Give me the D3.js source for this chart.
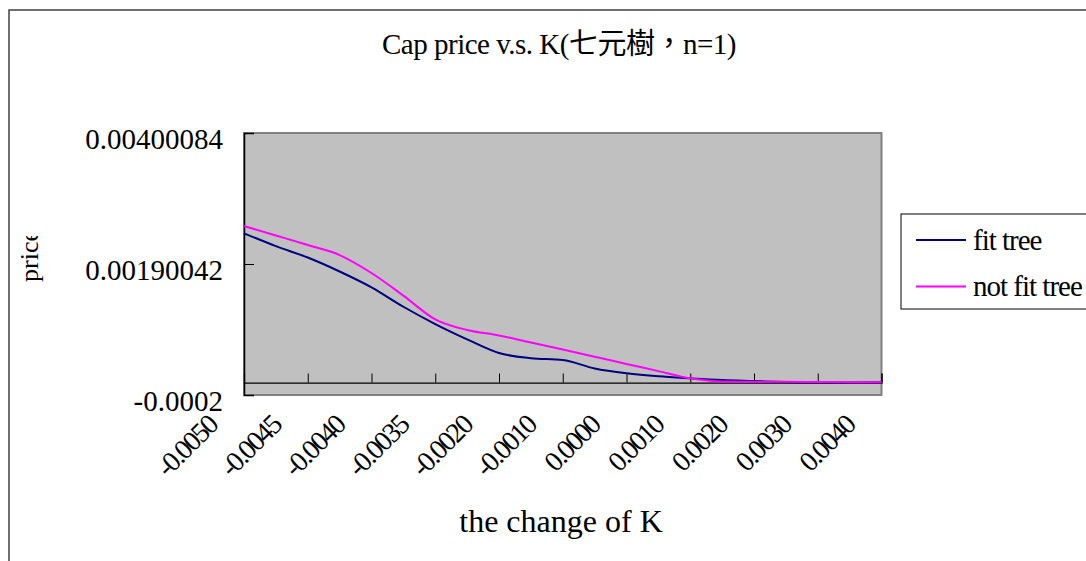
<!DOCTYPE html>
<meta charset="utf-8">
<style type="text/css">
    body {
        margin: 0;
        background: #fff;
    }
    text {
        font-family: "Liberation Serif", "Noto Sans CJK TC", serif;
        fill: #000;
    }
</style>
<body>
<script src="https://cdn.jsdelivr.net/npm/d3@7/dist/d3.min.js"></script>
<script>
// labels shown on the category axis (every other point)
var tickLabels = ["-0.0050", "-0.0045", "-0.0040", "-0.0035", "-0.0020", "-0.0010",
                  "0.0000", "0.0010", "0.0020", "0.0030", "0.0040"];

// cap price (21 points, one per half tick)
var fitTree = [0.002392, 0.002187, 0.002004, 0.001780, 0.001526, 0.001215, 0.000938,
               0.000693, 0.000473, 0.000390, 0.000361, 0.000226, 0.000148, 0.000099,
               0.000067, 0.000040, 0.000024, 0.000008, 0.000000, 0.000000, 0.000003];
var notFitTree = [0.002509, 0.002357, 0.002205, 0.002044, 0.001756, 0.001393, 0.001013,
                  0.000842, 0.000755, 0.000641, 0.000529, 0.000414, 0.000298, 0.000183,
                  0.000067, 0.000016, 0.000013, 0.000011, 0.000008, 0.000005, 0.000003];

var yTicks = [-0.0002, 0.00190042, 0.00400084];
var yTickLabels = ["-0.0002", "0.00190042", "0.00400084"];

var width = 1086, height = 561;
var plot = {left: 244, top: 133, right: 881.5, bottom: 395};

var svg = d3.select("body").append("svg")
    .attr("width", width)
    .attr("height", height);

// chart area frame
svg.append("rect")
    .attr("x", 9).attr("y", 10)
    .attr("width", 1200).attr("height", 700)
    .attr("fill", "#fff")
    .attr("stroke", "#404040")
    .attr("stroke-width", 1.5);

var x = d3.scaleLinear()
    .domain([0, fitTree.length - 1])
    .range([plot.left, plot.right]);

var y = d3.scaleLinear()
    .domain([yTicks[0], yTicks[2]])
    .range([plot.bottom, plot.top]);

// plot area
svg.append("rect")
    .attr("x", plot.left).attr("y", plot.top)
    .attr("width", plot.right - plot.left)
    .attr("height", plot.bottom - plot.top)
    .attr("fill", "#c0c0c0")
    .attr("stroke", "#808080")
    .attr("stroke-width", 2);

// value axis
var yAxis = d3.axisLeft(y)
    .tickValues(yTicks)
    .tickSize(-10)
    .tickFormat(function(d, i) { return yTickLabels[i]; });

var gy = svg.append("g")
    .attr("transform", "translate(" + plot.left + ",0)")
    .call(yAxis);
gy.select(".domain").attr("stroke", "#000").attr("stroke-width", 1.5);
gy.selectAll(".tick line").attr("stroke", "#000");
gy.selectAll(".tick text")
    .attr("x", -21)
    .attr("dy", "0.55em")
    .style("font-size", "29px")
    .style("font-family", "Liberation Serif");

// category axis crossing at zero
var catIdx = d3.range(0, fitTree.length, 2);
var xAxis = d3.axisBottom(x)
    .tickValues(catIdx)
    .tickSize(-9)
    .tickFormat("");

var gx = svg.append("g")
    .attr("transform", "translate(0," + y(0) + ")")
    .call(xAxis);
gx.select(".domain").attr("stroke", "#000").attr("stroke-width", 1.2);
gx.selectAll(".tick line").attr("stroke", "#000");

// rotated category labels
svg.selectAll(".xlab")
    .data(catIdx)
    .enter().append("text")
    .attr("class", "xlab")
    .attr("text-anchor", "end")
    .attr("transform", function(d) {
        return "translate(" + (x(d) - 25) + ",427) rotate(-45)";
    })
    .style("font-size", "28px")
    .style("letter-spacing", "-2px")
    .text(function(d, i) { return tickLabels[i]; });

// lines
var line = function(vals) {
    return d3.line()
        .x(function(d, i) { return x(i); })
        .y(function(d) { return y(d); })
        .curve(d3.curveMonotoneX)(vals);
};

svg.append("path")
    .attr("d", line(fitTree))
    .attr("fill", "none")
    .attr("stroke", "#000080")
    .attr("stroke-width", 2);

svg.append("path")
    .attr("d", line(notFitTree))
    .attr("fill", "none")
    .attr("stroke", "#ff00ff")
    .attr("stroke-width", 2);

// title
svg.append("text")
    .attr("x", 559).attr("y", 54)
    .attr("text-anchor", "middle")
    .style("font-size", "29px")
    .style("letter-spacing", "-0.5px")
    .text("Cap price v.s. K(七元樹，n=1)");

// axis titles (the y title is cut off at the top, as in the original)
svg.append("clipPath").attr("id", "pclip")
    .append("rect").attr("x", 0).attr("y", 236).attr("width", 80).attr("height", 80);

svg.append("g")
    .attr("clip-path", "url(#pclip)")
    .append("text")
    .attr("transform", "translate(37.5,282) rotate(-90)")
    .style("font-size", "26px")
    .text("price");

svg.append("text")
    .attr("x", 561).attr("y", 532)
    .attr("text-anchor", "middle")
    .style("font-size", "32px")
    .text("the change of K");

// legend
var series = [
    {name: "fit tree", color: "#000080"},
    {name: "not fit tree", color: "#ff00ff"}
];

var legend = svg.append("g");
legend.append("rect")
    .attr("x", 901).attr("y", 214)
    .attr("width", 200).attr("height", 95)
    .attr("fill", "#fff")
    .attr("stroke", "#000")
    .attr("stroke-width", 1);

var item = legend.selectAll(".item")
    .data(series)
    .enter().append("g")
    .attr("transform", function(d, i) { return "translate(0," + (240 + i * 46.5) + ")"; });

item.append("line")
    .attr("x1", 916).attr("x2", 966)
    .attr("stroke", function(d) { return d.color; })
    .attr("stroke-width", 2);

item.append("text")
    .attr("x", 973)
    .attr("dy", "0.33em")
    .style("font-size", "29px")
    .style("letter-spacing", "-1px")
    .text(function(d) { return d.name; });
</script>
</body>
